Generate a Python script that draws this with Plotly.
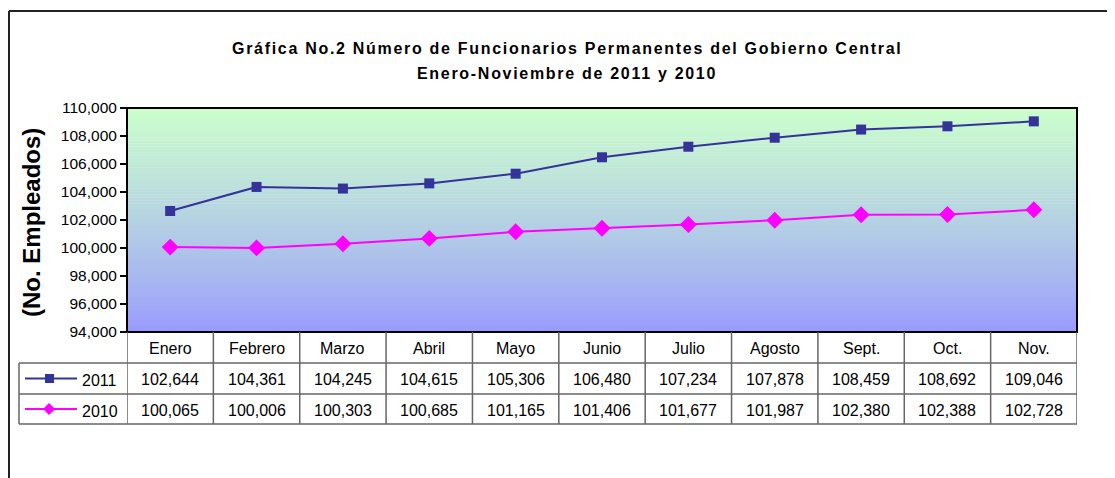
import plotly.graph_objects as go

months = ["Enero", "Febrero", "Marzo", "Abril", "Mayo", "Junio", "Julio",
          "Agosto", "Sept.", "Oct.", "Nov."]
vals_2011 = [102644, 104361, 104245, 104615, 105306, 106480, 107234,
             107878, 108459, 108692, 109046]
vals_2010 = [100065, 100006, 100303, 100685, 101165, 101406, 101677,
             101987, 102380, 102388, 102728]
series_names = ["2011", "2010"]
y_ticks = list(range(94000, 110001, 2000))

W, H = 1115, 478
OFF = 8  # page body margin
# plot area in screen pixels
SL, SR, ST, SB = 127, 1077, 108, 332
L, R, T, B = SL - OFF, SR - OFF, ST - OFF, SB - OFF


def px(x):
    return (x - SL) / (SR - SL)


def py(y):
    return (SB - y) / (SB - ST)


C2011 = "#333399"
C2010 = "#FF00FF"
FONT = "Liberation Sans, Arial, sans-serif"

fig = go.Figure()
fig.add_trace(go.Scatter(x=months, y=vals_2011, mode="lines+markers", name="2011",
                         line=dict(color=C2011, width=2),
                         marker=dict(symbol="square", size=10, color=C2011)))
fig.add_trace(go.Scatter(x=months, y=vals_2010, mode="lines+markers", name="2010",
                         line=dict(color=C2010, width=2),
                         marker=dict(symbol="diamond", size=13, color=C2010)))

shapes = []
# gradient background
top = (0xCC, 0xFF, 0xCC)
bot = (0x99, 0x99, 0xFF)
N = 75
for i in range(N):
    t = ((i + 0.5) / N) ** 0.85
    c = tuple(round(bot[k] + (top[k] - bot[k]) * t) for k in range(3))
    shapes.append(dict(type="rect", xref="paper", yref="paper", x0=0, x1=1,
                       y0=i / N, y1=(i + 1) / N + 0.002, layer="below",
                       line=dict(width=0), fillcolor="rgb(%d,%d,%d)" % c))
# plot border
shapes.append(dict(type="rect", xref="paper", yref="paper", x0=0, x1=1, y0=0, y1=1,
                   line=dict(color="black", width=2), fillcolor="rgba(0,0,0,0)"))
# outer frame
shapes.append(dict(type="line", xref="paper", yref="paper", x0=px(9), x1=px(1130),
                   y0=py(11), y1=py(11), line=dict(color="#222", width=2)))
shapes.append(dict(type="line", xref="paper", yref="paper", x0=px(9), x1=px(9),
                   y0=py(11), y1=py(490), line=dict(color="#222", width=2)))

GRID = "#666666"
row_y = [332, 363, 394, 424]
for yy in row_y[1:]:
    shapes.append(dict(type="line", xref="paper", yref="paper", x0=px(19), x1=px(SR),
                       y0=py(yy), y1=py(yy), line=dict(color=GRID, width=1.5)))
shapes.append(dict(type="line", xref="paper", yref="paper", x0=px(19), x1=px(19),
                   y0=py(363), y1=py(424), line=dict(color=GRID, width=1.5)))
for i in range(len(months) + 1):
    shapes.append(dict(type="line", xref="x", yref="paper", x0=i - 0.5, x1=i - 0.5,
                       y0=py(332), y1=py(424), line=dict(color=GRID, width=1.5)))

# legend keys
for yy, col, sym in [(378.5, C2011, "square"), (409, C2010, "diamond")]:
    shapes.append(dict(type="line", xref="paper", yref="paper", x0=px(25), x1=px(77),
                       y0=py(yy), y1=py(yy), line=dict(color=col, width=2)))
    if sym == "square":
        shapes.append(dict(type="rect", xref="paper", yref="paper",
                           x0=px(45), x1=px(54), y0=py(yy + 4.5), y1=py(yy - 4.5),
                           line=dict(width=0), fillcolor=col))
    else:
        cx = 49
        path = "M %f %f L %f %f L %f %f L %f %f Z" % (
            px(cx - 6), py(yy), px(cx), py(yy - 6), px(cx + 6), py(yy), px(cx), py(yy + 6))
        shapes.append(dict(type="path", xref="paper", yref="paper", path=path,
                           line=dict(width=0), fillcolor=col))

annotations = []
tf = dict(family=FONT, size=16, color="black")
for i, m in enumerate(months):
    annotations.append(dict(x=m, y=py(348), xref="x", yref="paper", text=m,
                            showarrow=False, font=tf, xanchor="center", yanchor="middle"))
for vals, yy in [(vals_2011, 379), (vals_2010, 410)]:
    for m, v in zip(months, vals):
        annotations.append(dict(x=m, y=py(yy), xref="x", yref="paper", text=f"{v:,}",
                                showarrow=False, font=tf, xanchor="center",
                                yanchor="middle"))
for name, yy in zip(series_names, [380, 411]):
    annotations.append(dict(x=px(80), y=py(yy), xref="paper", yref="paper", text=name,
                            showarrow=False, font=tf, xanchor="left", yanchor="middle"))

# titles
title_font = dict(family=FONT, size=16, color="black")
sp = '<span style="letter-spacing:1.7px">%s</span>'
annotations.append(dict(x=px(567), y=py(48), xref="paper", yref="paper",
                        text="<b>" + sp % "Gráfica No.2 Número de Funcionarios Permanentes del Gobierno Central" + "</b>",
                        showarrow=False, font=title_font, xanchor="center", yanchor="middle"))
annotations.append(dict(x=px(567), y=py(73), xref="paper", yref="paper",
                        text="<b>" + sp % "Enero-Noviembre de 2011 y 2010" + "</b>",
                        showarrow=False, font=title_font, xanchor="center", yanchor="middle"))
annotations.append(dict(x=px(31), y=py(223), xref="paper", yref="paper",
                        text="<b>(No. Empleados)</b>", textangle=-90,
                        showarrow=False, font=dict(family=FONT, size=24, color="black"),
                        xanchor="center", yanchor="middle"))

fig.update_layout(
    width=W, height=H,
    margin=dict(l=L, r=W - R, t=T, b=H - B, pad=0),
    paper_bgcolor="white", plot_bgcolor="rgba(0,0,0,0)",
    showlegend=False,
    shapes=shapes, annotations=annotations,
    font=dict(family=FONT, size=15, color="black"),
)
fig.update_xaxes(type="category", range=[-0.5, len(months) - 0.5], showticklabels=False,
                 ticks="", showgrid=False, zeroline=False, showline=False)
fig.update_yaxes(range=[94000, 110000], tickvals=y_ticks,
                 ticktext=[f"{v:,}" for v in y_ticks], ticks="outside", ticklen=6,
                 tickcolor="black", tickwidth=1.5, showgrid=False, zeroline=False,
                 showline=False, tickfont=dict(family=FONT, size=15.5, color="black"))

fig.write_html("out.html")
